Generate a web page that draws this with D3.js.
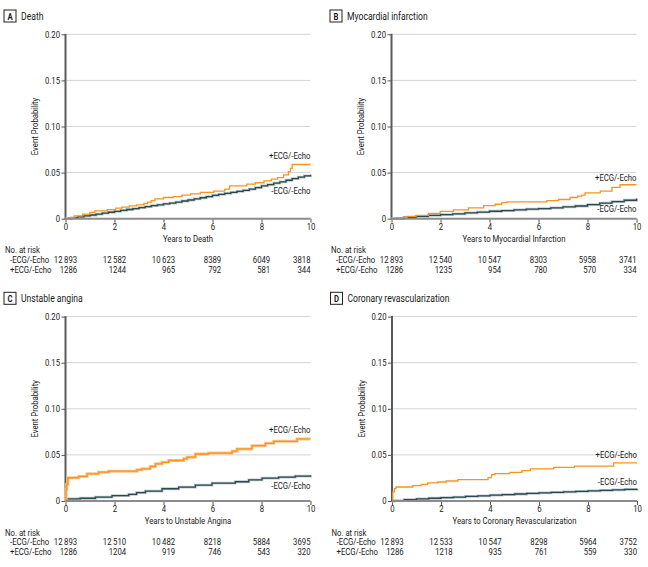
<!DOCTYPE html>
<html>
<head>
<meta charset="utf-8">
<script src="https://cdn.jsdelivr.net/npm/d3@7"></script>
<style>
  body { margin: 0; background: #fff; }
  svg text { font-family: Roboto, "Liberation Sans", sans-serif; fill: #1a1a1a; }
</style>
</head>
<body>
<svg id="chart"></svg>
<script>
// chart data
const yTicks = [0, 0.05, 0.10, 0.15, 0.20];
const xTicks = [0, 2, 4, 6, 8, 10];
const groups = ["-ECG/-Echo", "+ECG/-Echo"];

// cumulative event probability, [years, probability]
const deathPlus = [[0,0],[0.12,0.0012],[0.35,0.003],[0.7,0.005],[1.0,0.0068],[1.2,0.0085],[1.7,0.0099],[2.05,0.0115],[2.3,0.0125],[2.6,0.014],[2.9,0.015],[3.2,0.0165],[3.35,0.018],[3.5,0.0195],[3.65,0.0215],[4.0,0.023],[4.4,0.024],[4.75,0.0255],[5.1,0.027],[5.5,0.0285],[6.05,0.030],[6.5,0.032],[6.7,0.0355],[7.4,0.0375],[7.75,0.039],[8.1,0.041],[8.4,0.043],[8.65,0.0445],[8.9,0.0475],[9.1,0.051],[9.18,0.0545],[9.25,0.0588],[10,0.0588]];
const deathMinus = [[0,0],[0.25,0.0008],[0.5,0.0019],[0.75,0.003],[1,0.004],[1.25,0.005],[1.5,0.006],[1.75,0.007],[2,0.008],[2.25,0.009],[2.5,0.01],[2.75,0.011],[3,0.012],[3.25,0.0132],[3.5,0.0141],[3.75,0.015],[4,0.016],[4.25,0.017],[4.5,0.018],[4.75,0.0192],[5,0.0203],[5.25,0.0215],[5.5,0.0227],[5.75,0.024],[6,0.0252],[6.25,0.0263],[6.5,0.0274],[6.75,0.0285],[7,0.0296],[7.25,0.0307],[7.5,0.032],[7.75,0.0337],[8,0.0355],[8.25,0.037],[8.5,0.0385],[8.75,0.04],[9,0.0417],[9.25,0.0434],[9.5,0.045],[9.75,0.0464],[10,0.0477]];

const miPlus = [[0,0],[0.15,0.0011],[0.63,0.0026],[1.0,0.0035],[1.51,0.0058],[1.99,0.008],[2.53,0.0095],[3.14,0.0117],[3.76,0.0142],[4.23,0.0157],[4.5,0.0175],[4.71,0.0182],[6.34,0.0197],[6.82,0.0208],[7.29,0.023],[7.6,0.0245],[7.77,0.0255],[7.9,0.028],[8.52,0.030],[9.0,0.034],[9.33,0.0368],[10,0.0368]];
const miMinus = [[0,0],[0.5,0.0014],[1,0.0025],[1.5,0.0035],[2,0.0044],[2.5,0.0053],[3,0.0063],[3.5,0.0072],[4,0.0081],[4.5,0.0088],[5,0.0096],[5.5,0.0103],[6,0.011],[6.5,0.0118],[7,0.0128],[7.5,0.0138],[8,0.0153],[8.5,0.0168],[9,0.0185],[9.5,0.02],[10,0.0218]];

const uaPlus = [[0,0],[0.02,0.012],[0.05,0.018],[0.1,0.0252],[0.54,0.0266],[0.88,0.0295],[1.35,0.0313],[1.76,0.0324],[2.92,0.0338],[3.12,0.0349],[3.46,0.0374],[3.67,0.0403],[3.94,0.042],[4.21,0.0439],[4.82,0.0457],[4.96,0.0475],[5.3,0.051],[5.84,0.052],[6.8,0.054],[7.0,0.0565],[7.61,0.060],[8.16,0.0626],[8.5,0.0647],[9.45,0.0673],[10,0.0673]];
const uaMinus = [[0,0],[0.02,0.0022],[0.6,0.003],[1.22,0.0043],[1.9,0.0058],[2.58,0.0072],[2.9,0.009],[3.26,0.0108],[3.94,0.0133],[4.62,0.0151],[5.3,0.0173],[5.98,0.0194],[6.93,0.0209],[7.48,0.023],[8.02,0.0248],[8.7,0.0259],[9.38,0.027],[10,0.028]];

const crPlus = [[0,0],[0.03,0.0098],[0.1,0.0134],[0.16,0.0152],[0.85,0.0167],[1.19,0.018],[1.46,0.0196],[1.87,0.0206],[2.21,0.0217],[2.69,0.0232],[3.92,0.0254],[4.06,0.0286],[4.2,0.0297],[4.81,0.031],[5.3,0.033],[5.65,0.0348],[6.6,0.0365],[7.45,0.0378],[9.05,0.0413],[10,0.0413]];
const crMinus = [[0,0],[0.1,0.0005],[0.5,0.0014],[1,0.0023],[1.5,0.003],[2,0.0037],[2.5,0.0043],[3,0.005],[3.5,0.0056],[4,0.0063],[4.5,0.0069],[5,0.0076],[5.5,0.0082],[6,0.0088],[6.5,0.0093],[7,0.0099],[7.5,0.0104],[8,0.0109],[8.5,0.0115],[9,0.012],[9.5,0.0126],[10,0.0133]];

// number at risk at 0, 2, 4, 6, 8, 10 years
const deathRiskMinus = [12893, 12582, 10623, 8389, 6049, 3818];
const deathRiskPlus  = [1286, 1244, 965, 792, 581, 344];
const miRiskMinus = [12893, 12540, 10547, 8303, 5958, 3741];
const miRiskPlus  = [1286, 1235, 954, 780, 570, 334];
const uaRiskMinus = [12893, 12510, 10482, 8218, 5884, 3695];
const uaRiskPlus  = [1286, 1204, 919, 746, 543, 320];
const crRiskMinus = [12893, 12533, 10547, 8298, 5964, 3752];
const crRiskPlus  = [1286, 1218, 935, 761, 559, 330];

const panels = [
  { letter: "A", title: "Death", xTitle: "Years to Death", plus: deathPlus, minus: deathMinus,
    riskMinus: deathRiskMinus, riskPlus: deathRiskPlus, plusLab: 0.068, minusLab: 0.0297, dx: 0, dy: 0 },
  { letter: "B", title: "Myocardial infarction", xTitle: "Years to Myocardial Infarction", plus: miPlus, minus: miMinus,
    riskMinus: miRiskMinus, riskPlus: miRiskPlus, plusLab: 0.044, minusLab: 0.0102, dx: 326, dy: 0 },
  { letter: "C", title: "Unstable angina", xTitle: "Years to Unstable Angina", plus: uaPlus, minus: uaMinus,
    riskMinus: uaRiskMinus, riskPlus: uaRiskPlus, plusLab: 0.077, minusLab: 0.016, dx: 0, dy: 282.3, plusBand: true },
  { letter: "D", title: "Coronary revascularization", xTitle: "Years to Coronary Revascularization", plus: crPlus, minus: crMinus,
    riskMinus: crRiskMinus, riskPlus: crRiskPlus, plusLab: 0.0499, minusLab: 0.0207, dx: 326.5, dy: 282.3 }
];

const W = 648, H = 567;
const orange = "#f7941d", teal = "#264a50";
const fs = "9px";
const squeeze = 0.86;   // the journal font is condensed; narrow the glyphs to match

const svg = d3.select("#chart")
    .attr("width", W)
    .attr("height", H);
svg.append("rect").attr("width", W).attr("height", H).attr("fill", "#fff");

// thin space as thousands separator, like the journal style
const fmtRisk = n => n >= 10000 ? d3.format(",")(n).replace(",", "\u2009") : String(n);

panels.forEach(p => drawPanel(p));

// condense every text
svg.selectAll("text").each(function () {
  const w = this.getComputedTextLength();
  if (w > 0) d3.select(this).attr("textLength", w * squeeze).attr("lengthAdjust", "spacingAndGlyphs");
});

function drawPanel(p) {
  const g = svg.append("g").attr("transform", `translate(${p.dx},${p.dy})`);
  const x0 = 65.5, x1 = 310.5, yTop = 34.3, yBot = 218.7;

  const x = d3.scaleLinear().domain([0, 10]).range([x0, x1]);
  const y = d3.scaleLinear().domain([0, 0.20]).range([yBot, yTop]);

  // panel heading
  g.append("rect")
    .attr("x", 4).attr("y", 10).attr("width", 12).attr("height", 12)
    .attr("fill", "none").attr("stroke", "#231f20").attr("stroke-width", 1);
  g.append("text")
    .attr("x", 10).attr("y", 19.5).attr("text-anchor", "middle")
    .style("font-size", "9px").style("font-weight", "bold")
    .text(p.letter);
  g.append("text")
    .attr("x", 21).attr("y", 19.8)
    .style("font-size", "10px")
    .text(p.title);

  // gridlines
  g.append("g")
    .selectAll("line")
    .data(yTicks.filter(d => d > 0))
    .join("line")
      .attr("x1", x0).attr("x2", x1)
      .attr("y1", d => y(d)).attr("y2", d => y(d))
      .attr("stroke", "#d4d4d4").attr("stroke-width", 1);

  // y axis
  const yAxis = g.append("g")
    .attr("transform", `translate(${x0},0)`)
    .call(d3.axisLeft(y).tickValues(yTicks).tickSize(4).tickPadding(1.5)
      .tickFormat(d => d === 0 ? "0" : d3.format(".2f")(d)));
  yAxis.select(".domain").remove();
  yAxis.selectAll(".tick line").attr("stroke", "#555");
  yAxis.selectAll(".tick text").style("font-size", fs).style("font-family", null).attr("fill", "#1a1a1a");
  g.append("line")
    .attr("x1", x0).attr("x2", x0).attr("y1", yTop - 0.5).attr("y2", yBot + 1)
    .attr("stroke", "#5a5a5a").attr("stroke-width", 2);

  g.append("text")
    .attr("transform", `translate(38,${(yTop + yBot) / 2}) rotate(-90)`)
    .attr("text-anchor", "middle")
    .style("font-size", fs)
    .text("Event Probability");

  // x axis
  const xAxis = g.append("g")
    .attr("transform", `translate(0,${yBot})`)
    .call(d3.axisBottom(x).tickValues(xTicks).tickSize(4).tickPadding(1));
  xAxis.select(".domain").remove();
  xAxis.selectAll(".tick line").attr("stroke", "#555");
  xAxis.selectAll(".tick text").style("font-size", fs).style("font-family", null).attr("fill", "#1a1a1a");

  g.append("text")
    .attr("x", (x0 + x1) / 2).attr("y", 242)
    .attr("text-anchor", "middle")
    .style("font-size", fs)
    .text(p.xTitle);

  // curves
  const line = d3.line()
    .x(d => x(d[0]))
    .y(d => y(d[1]))
    .curve(d3.curveStepAfter);

  g.append("path").datum(p.minus)
    .attr("d", line).attr("fill", "none")
    .attr("stroke", "#c0c7c9").attr("stroke-width", 2.8);
  g.append("path").datum(p.minus)
    .attr("d", line).attr("fill", "none")
    .attr("stroke", teal).attr("stroke-width", 1.3);

  if (p.plusBand) {
    g.append("path").datum(p.plus)
      .attr("d", line).attr("fill", "none")
      .attr("stroke", "#fbc58e").attr("stroke-width", 3);
  }
  g.append("path").datum(p.plus)
    .attr("d", line).attr("fill", "none")
    .attr("stroke", orange).attr("stroke-width", 1.3);

  g.append("line")
    .attr("x1", x0).attr("x2", x1).attr("y1", yBot).attr("y2", yBot)
    .attr("stroke", "#8c8c8c").attr("stroke-width", 2);

  // curve labels
  g.append("text")
    .attr("x", x1).attr("y", y(p.plusLab)).attr("dy", "0.35em")
    .attr("text-anchor", "end").style("font-size", fs)
    .text(groups[1]);
  g.append("text")
    .attr("x", x1).attr("y", y(p.minusLab)).attr("dy", "0.35em")
    .attr("text-anchor", "end").style("font-size", fs)
    .text(groups[0]);

  // number at risk table
  g.append("text").attr("x", 5).attr("y", 253.3).style("font-size", fs).text("No. at risk");
  g.append("text").attr("x", 10).attr("y", 262.8).style("font-size", fs).text(groups[0]);
  g.append("text").attr("x", 10).attr("y", 272.8).style("font-size", fs).text(groups[1]);

  xTicks.forEach((t, i) => {
    const last = i === xTicks.length - 1;
    const top = g.append("text")
      .attr("x", x(t)).attr("y", 262.8)
      .attr("text-anchor", last ? "end" : "middle")
      .style("font-size", fs)
      .text(fmtRisk(p.riskMinus[i]));
    const right = last ? x(t) : x(t) + top.node().getComputedTextLength() * squeeze / 2;
    g.append("text")
      .attr("x", right).attr("y", 272.8)
      .attr("text-anchor", "end")
      .style("font-size", fs)
      .text(fmtRisk(p.riskPlus[i]));
  });
}
</script>
</body>
</html>
